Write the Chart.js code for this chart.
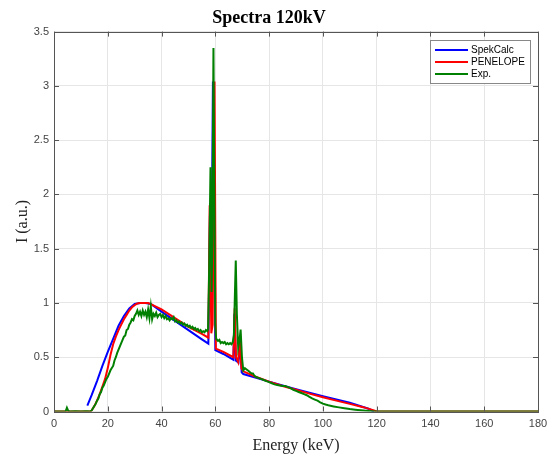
<!DOCTYPE html>
<html>
<head>
<meta charset="utf-8">
<script src="https://cdn.jsdelivr.net/npm/chart.js@4"></script>
<style>
  body { margin: 0; background: #fff; }
  #wrap { width: 560px; height: 459px; }
</style>
</head>
<body>
<div id="wrap"><canvas id="chart-area" width="560" height="459"></canvas></div>
<script>
// x tick labels / y tick labels
var energyTicks = [0, 20, 40, 60, 80, 100, 120, 140, 160, 180];
var intensityTicks = [0, 0.5, 1, 1.5, 2, 2.5, 3, 3.5];
var seriesNames = ["SpekCalc", "PENELOPE", "Exp."];
var seriesColors = ["#0000ff", "#ff0000", "#008000"];

// SpekCalc
var spekE = [12.4, 14, 16, 18, 20, 22, 24, 26, 28, 30, 32, 34, 36, 40, 45, 50, 55, 57.4,
  58.0, 58.5, 59.1, 60.0, 63, 66.7, 67.1, 67.6, 68.6, 69.2, 69.8, 70.4,
  80, 90, 100, 110, 117, 119];
var spekI = [0.055, 0.15, 0.28, 0.42, 0.55, 0.67, 0.79, 0.88, 0.95, 0.99, 1.0, 1.0, 0.99, 0.92, 0.835, 0.75, 0.665, 0.625,
  1.8, 1.0, 3.04, 0.565, 0.53, 0.477, 0.9, 0.47, 0.45, 0.62, 0.36, 0.345,
  0.275, 0.205, 0.14, 0.08, 0.025, 0];

// PENELOPE
var penE = [0, 13.5, 14, 15, 16, 17, 18, 19, 20, 21, 22, 23, 24, 25, 26, 27, 28, 29, 30, 31, 32, 33, 34, 35, 36,
  40, 45, 50, 55, 57.4, 57.9, 58.5, 59.0, 59.7, 60.2, 63, 66.7, 67.2, 67.7, 68.5, 69.1, 69.7, 70.4,
  75, 80, 85, 90, 95, 100, 105, 110, 115, 119, 120, 180];
var penI = [0, 0, 0.01, 0.05, 0.1, 0.16, 0.23, 0.3, 0.4, 0.52, 0.62, 0.69, 0.75, 0.8, 0.85, 0.89, 0.93, 0.96, 0.98, 0.995, 1.0, 1.0, 1.0, 1.0, 0.99,
  0.94, 0.86, 0.78, 0.715, 0.68, 1.9, 0.72, 0.8, 3.04, 0.58, 0.55, 0.50, 0.95, 0.5, 0.455, 0.68, 0.4, 0.37,
  0.32, 0.275, 0.235, 0.2, 0.165, 0.132, 0.1, 0.07, 0.04, 0.01, 0, 0];

// Exp.
var expE = [0, 4.3, 4.8, 5.3, 6, 8, 10, 12, 13.5,
  14, 14.5, 15, 15.5, 16, 16.5, 17, 17.5, 18, 18.5, 19, 19.5, 20, 20.5, 21, 21.5, 22, 22.5, 23, 23.5,
  24, 24.5, 25, 25.5, 26, 26.5, 27, 27.5, 28, 28.5, 29, 29.5, 30, 30.5, 31, 31.5, 32, 32.5, 33, 33.5,
  34, 34.5, 35, 35.5, 36, 36.5, 37, 37.5, 38, 38.5, 39, 39.5, 40, 40.5, 41, 41.5, 42, 42.5, 43, 43.5,
  44, 44.5, 45, 45.5, 46, 46.5, 47, 47.5, 48, 48.5, 49, 49.5, 50, 50.5, 51, 51.5, 52, 52.5, 53, 53.5,
  54, 54.5, 55, 55.5, 56, 56.5, 57, 57.3, 57.7, 58.2, 58.6, 58.9, 59.3, 59.7, 60.0, 60.3,
  61, 61.5, 62, 62.5, 63, 63.5, 64, 64.5, 65, 65.5, 66, 66.5, 66.9, 67.3, 67.6, 68.0, 68.5, 69.0, 69.4, 69.9, 70.4,
  71, 71.5, 72, 72.5, 73, 73.5, 74, 74.5, 75, 76, 77, 78, 79, 80, 81, 82, 83, 84, 85, 86, 87, 88, 89,
  90, 91, 92, 93, 94, 95, 96, 97, 98, 99, 100, 101, 102, 104, 106, 108, 110, 112, 114, 116, 118, 120, 180];
var expI = [0, 0, 0.035, 0.005, 0, 0.003, 0, 0.002, 0,
  0.01, 0.03, 0.05, 0.07, 0.1, 0.12, 0.16, 0.18, 0.22, 0.24, 0.27, 0.3, 0.32, 0.35, 0.38, 0.4, 0.42, 0.47, 0.5, 0.54,
  0.57, 0.6, 0.63, 0.66, 0.69, 0.7, 0.75, 0.76, 0.8, 0.82, 0.85, 0.84, 0.88, 0.9, 0.93, 0.89, 0.92, 0.88, 0.93, 0.89,
  0.92, 0.87, 0.94, 0.86, 0.97, 0.85, 0.9, 0.88, 0.91, 0.87, 0.89, 0.9, 0.87, 0.89, 0.86, 0.88, 0.85, 0.86, 0.84, 0.86,
  0.85, 0.87, 0.83, 0.84, 0.82, 0.83, 0.81, 0.82, 0.8, 0.81, 0.79, 0.8, 0.78, 0.79, 0.77, 0.78, 0.76, 0.77, 0.75, 0.76,
  0.74, 0.75, 0.73, 0.74, 0.73, 0.75, 0.74, 0.76, 1.3, 2.25, 1.1, 1.6, 3.35, 1.8, 0.8, 0.67,
  0.65, 0.66, 0.63, 0.64, 0.63, 0.64, 0.62, 0.63, 0.62, 0.63, 0.62, 0.64, 0.7, 1.1, 1.39, 0.9, 0.59, 0.66, 0.755, 0.5, 0.38,
  0.4, 0.39, 0.38, 0.37, 0.36, 0.35, 0.35, 0.33, 0.32, 0.31, 0.3, 0.29, 0.28, 0.27, 0.26, 0.25, 0.245, 0.24, 0.235, 0.235, 0.225, 0.215, 0.2,
  0.19, 0.18, 0.17, 0.16, 0.15, 0.135, 0.12, 0.11, 0.1, 0.085, 0.072, 0.064, 0.057, 0.047, 0.038, 0.03, 0.022, 0.016, 0.011, 0.007, 0.003, 0, 0];

function toPoints(xs, ys) {
  var pts = [];
  for (let i = 0; i < xs.length; i++) {
    pts.push({ x: xs[i], y: ys[i] });
  }
  return pts;
}

function makeDataset(i, xs, ys) {
  return {
    label: seriesNames[i],
    data: toPoints(xs, ys),
    borderColor: seriesColors[i],
    backgroundColor: seriesColors[i],
    borderWidth: 2,
    pointRadius: 0,
    tension: 0,
    fill: false,
    order: 3 - i, // green on top
  };
}

// box round the plot, inward ticks and the legend (MATLAB look)
var matlabBox = {
  id: "matlabBox",
  afterDraw: function (chart) {
    var ctx = chart.ctx;
    var a = chart.chartArea;
    var xs = chart.scales.x;
    var ys = chart.scales.y;
    ctx.save();
    ctx.strokeStyle = "#555";
    ctx.lineWidth = 1;
    ctx.beginPath();
    xs.ticks.forEach(function (t, i) {
      var px = Math.round(xs.getPixelForTick(i)) + 0.5;
      ctx.moveTo(px, a.bottom);
      ctx.lineTo(px, a.bottom - 5);
      ctx.moveTo(px, a.top);
      ctx.lineTo(px, a.top + 5);
    });
    ys.ticks.forEach(function (t, i) {
      var py = Math.round(ys.getPixelForTick(i)) + 0.5;
      ctx.moveTo(a.left, py);
      ctx.lineTo(a.left + 5, py);
      ctx.moveTo(a.right, py);
      ctx.lineTo(a.right - 5, py);
    });
    ctx.stroke();
    ctx.strokeRect(Math.round(a.left) + 0.5, Math.round(a.top) + 0.5,
      Math.round(a.right - a.left), Math.round(a.bottom - a.top));

    // legend
    var lx = 430.5, ly = 40.5, lw = 100, lh = 43;
    ctx.fillStyle = "#fff";
    ctx.fillRect(lx, ly, lw, lh);
    ctx.strokeStyle = "#888";
    ctx.strokeRect(lx, ly, lw, lh);
    ctx.font = "10px 'Liberation Sans', Arial, sans-serif";
    ctx.textBaseline = "middle";
    chart.data.datasets.forEach(function (ds, i) {
      var y = 50 + i * 12;
      ctx.strokeStyle = ds.borderColor;
      ctx.lineWidth = 2;
      ctx.beginPath();
      ctx.moveTo(435, y);
      ctx.lineTo(468, y);
      ctx.stroke();
      ctx.fillStyle = "#000";
      ctx.fillText(ds.label, 471, y + 0.5);
    });
    ctx.restore();
  },
};

var config = {
  type: "line",
  data: {
    datasets: [
      makeDataset(0, spekE, spekI),
      makeDataset(1, penE, penI),
      makeDataset(2, expE, expI),
    ],
  },
  options: {
    responsive: false,
    animation: false,
    layout: { padding: { left: 0, right: 22, top: 0, bottom: 0 } },
    plugins: {
      legend: { display: false },
      tooltip: { enabled: false },
      title: {
        display: true,
        text: "Spectra 120kV",
        color: "#000",
        font: { family: "'Liberation Serif', 'Times New Roman', serif", size: 18, weight: "bold", lineHeight: 1.2 },
        padding: { top: 8, bottom: 2 },
      },
    },
    scales: {
      x: {
        type: "linear",
        min: 0,
        max: 180,
        afterBuildTicks: function (scale) {
          scale.ticks = energyTicks.map(function (v) { return { value: v }; });
        },
        afterFit: function (scale) { scale.height = 47.5; },
        grid: { color: "#e6e6e6", drawTicks: false },
        border: { display: false },
        ticks: {
          padding: 6,
          color: "#444",
          font: { family: "'Liberation Sans', Arial, sans-serif", size: 11 },
          maxRotation: 0,
          callback: function (v) { return String(v); },
        },
        title: {
          display: true,
          text: "Energy (keV)",
          color: "#222",
          font: { family: "'Liberation Serif', 'Times New Roman', serif", size: 16 },
          padding: { top: 0, bottom: 4 },
        },
      },
      y: {
        type: "linear",
        min: 0,
        max: 3.5,
        afterBuildTicks: function (scale) {
          scale.ticks = intensityTicks.map(function (v) { return { value: v }; });
        },
        afterFit: function (scale) { scale.width = 54; },
        grid: { color: "#e6e6e6", drawTicks: false },
        border: { display: false },
        ticks: {
          padding: 5,
          color: "#444",
          font: { family: "'Liberation Sans', Arial, sans-serif", size: 11 },
          callback: function (v) { return String(v); },
        },
        title: {
          display: true,
          text: "I (a.u.)",
          color: "#222",
          font: { family: "'Liberation Serif', 'Times New Roman', serif", size: 16 },
          padding: { top: 13, bottom: 0 },
        },
      },
    },
  },
  plugins: [matlabBox],
};

var ctx = document.getElementById("chart-area").getContext("2d");
window.chart = new Chart(ctx, config);
</script>
</body>
</html>
